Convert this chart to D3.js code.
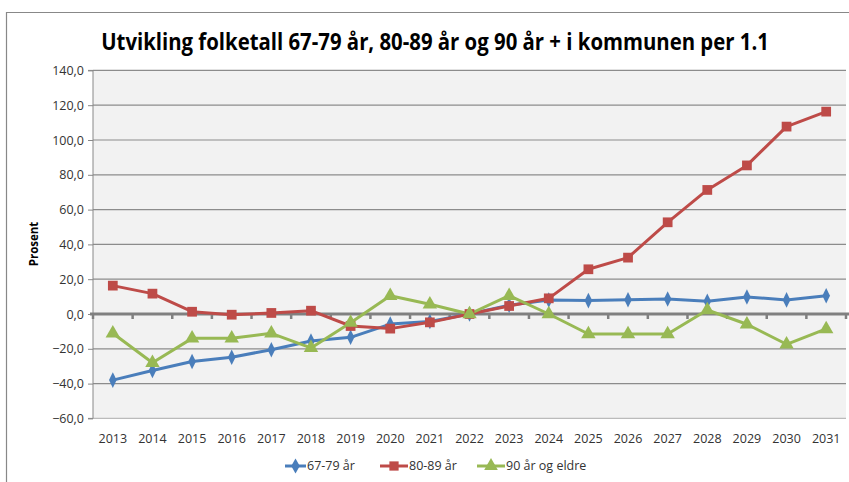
<!DOCTYPE html>
<html><head><meta charset="utf-8">
<script src="https://cdn.jsdelivr.net/npm/d3@7"></script>
<style>body{margin:0;background:#fff}svg{display:block}text{font-family:"Open Sans","Noto Sans",sans-serif}</style>
</head><body><svg id="c" width="849" height="482"></svg>
<script>
const years = ["2013","2014","2015","2016","2017","2018","2019","2020","2021","2022","2023","2024","2025","2026","2027","2028","2029","2030","2031"];
const s6779 = [-38,-32.5,-27.3,-24.9,-20.5,-15.5,-13.4,-5.8,-4.3,0,5,8,7.7,8.2,8.6,7.3,9.8,8.1,10.5];
const s8089 = [16.3,11.7,1.3,-0.4,0.6,1.9,-6.9,-8.4,-4.8,0,4.6,9,25.7,32.4,52.7,71.3,85.4,107.7,116.3];
const s90 = [-11.1,-28,-14,-14,-11.1,-19.5,-5,10.5,5.6,0,10.5,0,-11.5,-11.5,-11.5,2.3,-5.9,-17.4,-8.6];
const seriesNames = ["67-79 år","80-89 år","90 år og eldre"];
const yTicks = [140,120,100,80,60,40,20,0,-20,-40,-60];
const title = "Utvikling folketall 67-79 år, 80-89 år og 90 år + i kommunen per 1.1";

const svg = d3.select("#c");
const L=93,R=846,T=70.4,B=418.4;
const x = d3.scaleBand().domain(years).range([L,R]);
const y = d3.scaleLinear().domain([-60,140]).range([B,T]);
const colors=["#4a7ebb","#be4b48","#98b954"];
const data=[s6779,s8089,s90];

// chart border
svg.append("path").attr("d","M6.5,482 V12.5 H849").attr("fill","none").attr("stroke","#888").attr("stroke-width",1.2);

// title: scaled horizontally to Calibri-like width
const tg = svg.append("g");
const tt = tg.append("text").attr("x",0).attr("y",0).attr("text-anchor","middle")
 .attr("font-size",20).attr("font-weight","bold").attr("fill","#000").text(title);
const natW = tt.node().getComputedTextLength();
const sx = 668/natW;
tg.attr("transform",`translate(435,50) scale(${sx},1.12)`);

// plot bg
svg.append("rect").attr("x",L).attr("y",T).attr("width",R-L).attr("height",B-T).attr("fill","#f2f2f2");
// gridlines
svg.append("g").selectAll("line").data(yTicks.filter(d=>d!==0)).join("line")
 .attr("x1",L).attr("x2",R).attr("y1",d=>y(d)).attr("y2",d=>y(d))
 .attr("stroke",d=>d===-60?"#bbb":"#8c8c8c").attr("stroke-width",1.2);

// y axis
const ya = svg.append("g").attr("transform",`translate(${L},0)`)
 .call(d3.axisLeft(y).tickValues(yTicks).tickSize(5).tickPadding(4).tickFormat(d=>d3.format(".1f")(d).replace(".",",")));
ya.select(".domain").attr("stroke","#888").attr("d",`M-5,${T}H0V${B}H-5`);
ya.selectAll(".tick line").attr("stroke","#888");
ya.selectAll("text").attr("font-size",12.5).attr("fill","#333").attr("font-family","Open Sans, sans-serif");

svg.append("text").attr("transform","translate(38,244) rotate(-90)").attr("text-anchor","middle")
 .attr("font-size",11.5).attr("font-weight","bold").text("Prosent");

// zero axis line with ticks
const zg=svg.append("g");
zg.selectAll("line.t").data(years.concat(["end"])).join("line")
 .attr("x1",(d,i)=>L+i*x.step()).attr("x2",(d,i)=>L+i*x.step())
 .attr("y1",y(0)).attr("y2",y(0)+5).attr("stroke","#808080").attr("stroke-width",2.5);
zg.append("line").attr("x1",L-3).attr("x2",849).attr("y1",y(0)).attr("y2",y(0)).attr("stroke","#808080").attr("stroke-width",3);

// x labels
svg.append("g").selectAll("text").data(years).join("text")
 .attr("x",d=>x(d)+x.bandwidth()/2).attr("y",443).attr("text-anchor","middle")
 .attr("font-size",12.5).attr("fill","#333").text(d=>d);

const line=d3.line().x((d,i)=>x(years[i])+x.bandwidth()/2).y(d=>y(d));
const symT=[d3.symbolDiamond,d3.symbolSquare,d3.symbolTriangle];
const symS=[70,95,90];
data.forEach((s,k)=>{
 svg.append("path").datum(s).attr("d",line).attr("fill","none").attr("stroke",colors[k]).attr("stroke-width",3).attr("stroke-linejoin","round");
});
data.forEach((s,k)=>{
 svg.append("g").selectAll("path").data(s).join("path")
  .attr("d",d3.symbol().type(symT[k]).size(symS[k]))
  .attr("transform",(d,i)=>`translate(${x(years[i])+x.bandwidth()/2},${y(d)})${k===0?" scale(0.85,1)":""}`)
  .attr("fill",colors[k]);
});

// legend
const lx=[285,380,477];
seriesNames.forEach((n,k)=>{
 const g=svg.append("g").attr("transform",`translate(${lx[k]},466)`);
 g.append("line").attr("x1",0).attr("x2",k===0?21:28).attr("stroke",colors[k]).attr("stroke-width",3);
 g.append("path").attr("d",d3.symbol().type(symT[k]).size(symS[k]*0.9)).attr("transform",`translate(${k===0?10.5:14},0)`).attr("fill",colors[k]);
 g.append("text").attr("x",k===0?22:29).attr("y",4).attr("font-size",12.5).attr("fill","#333").text(n);
});
</script></body></html>
